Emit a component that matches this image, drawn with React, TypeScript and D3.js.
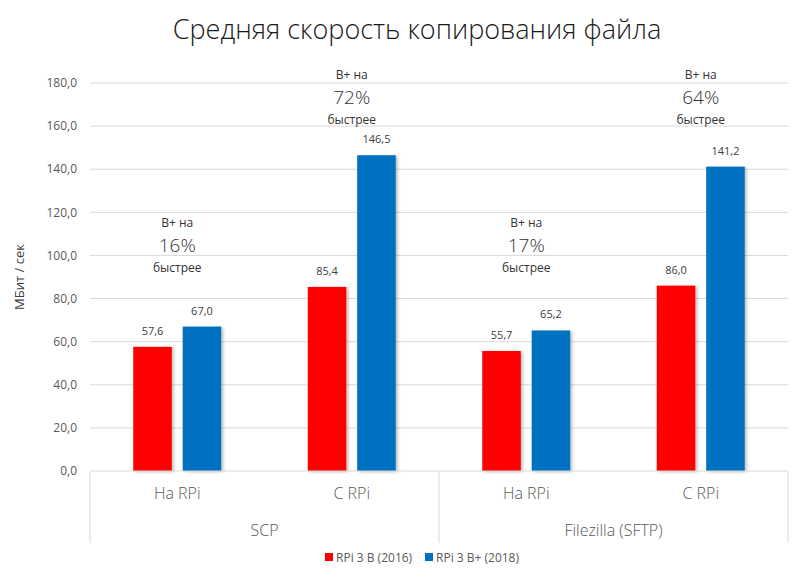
import * as d3 from "d3";
import React from "react";

const groups = ["SCP", "Filezilla (SFTP)"];
const directions = ["На RPi", "С RPi"];
const seriesNames = ["RPi 3 B (2016)", "RPi 3 B+ (2018)"];
const seriesColors = ["#ff0000", "#0070c0"];
const rpi3b = [57.6, 85.4, 55.7, 86.0];
const rpi3bPlus = [67.0, 146.5, 65.2, 141.2];
const gains = ["16%", "72%", "17%", "64%"];
// value level where each "B+ на ... быстрее" note begins
const gainLevels = [113, 182, 113, 182];
const yTicks = [0, 20, 40, 60, 80, 100, 120, 140, 160, 180];

function App() {
  const width = 800;
  const height = 576;
  const margin = { top: 83, left: 90, bottom: 105, right: 12 };
  const iwidth = width - margin.left - margin.right;
  const iheight = height - margin.top - margin.bottom;
  const font = "'Open Sans', 'Noto Sans', sans-serif";

  const cats = groups.flatMap((g) => directions.map((d) => g + "|" + d));

  const y = d3.scaleLinear().domain([0, 180]).range([iheight, 0]);
  const x0 = d3.scaleBand().domain(cats).range([0, iwidth]);
  const x1 = d3
    .scaleBand()
    .domain(["0", "1"])
    .range([0, 88])
    .paddingInner(0.22);
  const xg = d3.scaleBand().domain(groups).range([0, iwidth]);

  const fmt = (v: number) => v.toFixed(1).replace(".", ",");
  const series = [rpi3b, rpi3bPlus];
  const axisH = 72;

  return (
    <svg width={width} height={height} style={{ position: "absolute", left: 0, top: 0 }}>
      <defs>
        <filter id="sh" x="-20%" y="-5%" width="150%" height="115%">
          <feDropShadow dx="2" dy="1" stdDeviation="1.5" floodColor="#000" floodOpacity="0.25" />
        </filter>
      </defs>
      <rect width={width} height={height} fill="#fff" />
      <text
        x={417}
        y={39}
        textAnchor="middle"
        fontFamily={font}
        fontWeight={300}
        fontSize={27}
        fill="#1a1a1a"
      >
        Средняя скорость копирования файла
      </text>
      <text
        transform={`translate(24, ${margin.top + iheight / 2}) rotate(-90)`}
        textAnchor="middle"
        fontFamily={font}
        fontSize={13}
        fill="#404040"
      >
        МБит / сек
      </text>
      <g transform={`translate(${margin.left}, ${margin.top})`}>
        {yTicks.map((t) => (
          <g key={t}>
            {t > 0 && (
              <line x1={0} x2={iwidth} y1={y(t)} y2={y(t)} stroke="#d9d9d9" strokeWidth={1} />
            )}
            <text
              x={-13}
              y={y(t)}
              dy="0.35em"
              textAnchor="end"
              fontFamily={font}
              fontSize={12}
              fill="#595959"
            >
              {fmt(t)}
            </text>
          </g>
        ))}
        {cats.map((c, i) => {
          const cx = (x0(c) ?? 0) + x0.bandwidth() / 2;
          const gx = cx - 44;
          return (
            <g key={c}>
              {series.map((s, j) => (
                <g key={j}>
                  <rect
                    x={gx + (x1(String(j)) ?? 0)}
                    y={y(s[i])}
                    width={x1.bandwidth()}
                    height={iheight - y(s[i])}
                    fill={seriesColors[j]}
                    filter="url(#sh)"
                  />
                  <text
                    x={gx + (x1(String(j)) ?? 0) + x1.bandwidth() / 2}
                    y={y(s[i]) - 12}
                    textAnchor="middle"
                    fontFamily={font}
                    fontSize={11}
                    fill="#404040"
                  >
                    {fmt(s[i])}
                  </text>
                </g>
              ))}
              <g
                transform={`translate(${cx}, ${y(gainLevels[i])})`}
                fontFamily={font}
                fill="#333"
                textAnchor="middle"
              >
                <text y={0} fontSize={12}>B+ на</text>
                <text y={25} fontSize={19} fontWeight={300}>{gains[i]}</text>
                <text y={45} fontSize={12}>быстрее</text>
              </g>
              <text
                x={cx}
                y={iheight + 28}
                textAnchor="middle"
                fontFamily={font}
                fontWeight={300}
                fontSize={16}
                fill="#595959"
              >
                {c.split("|")[1]}
              </text>
            </g>
          );
        })}
        <line x1={0} x2={iwidth} y1={iheight} y2={iheight} stroke="#d9d9d9" />
        {groups.map((g, i) => (
          <g key={g}>
            <line
              x1={xg(g) ?? 0}
              x2={xg(g) ?? 0}
              y1={iheight}
              y2={iheight + axisH}
              stroke="#d9d9d9"
            />
            <text
              x={(xg(g) ?? 0) + xg.bandwidth() / 2}
              y={iheight + 65}
              textAnchor="middle"
              fontFamily={font}
              fontWeight={300}
              fontSize={16}
              fill="#595959"
            >
              {g}
            </text>
          </g>
        ))}
        <line x1={iwidth} x2={iwidth} y1={iheight} y2={iheight + axisH} stroke="#d9d9d9" />
      </g>
      <g transform="translate(325, 558)" fontFamily={font} fontSize={12} fill="#595959">
        {seriesNames.map((n, i) => (
          <g key={n} transform={`translate(${i * 100}, 0)`}>
            <rect x={0} y={-5} width={8} height={8} fill={seriesColors[i]} />
            <text x={11} y={0} dy="0.35em">{n}</text>
          </g>
        ))}
      </g>
    </svg>
  );
}

export default App;
